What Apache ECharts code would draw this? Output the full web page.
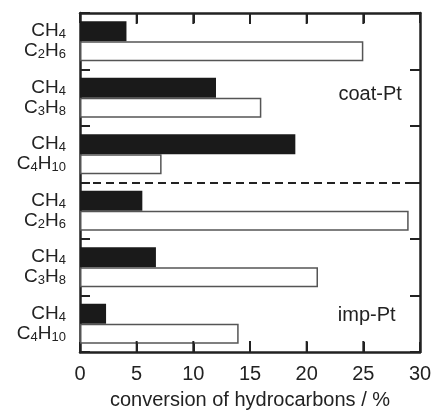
<!DOCTYPE html>
<html>
<head>
<meta charset="utf-8">
<script src="https://cdn.jsdelivr.net/npm/echarts@6/dist/echarts.min.js"></script>
<style>
  html, body { margin: 0; padding: 0; background: #fff; }
  #chart { width: 438px; height: 415px; }
</style>
</head>
<body>
<div id="chart"></div>
<script>
// 催化剂 / 烃类
const catalysts = ['coat-Pt', 'coat-Pt', 'coat-Pt', 'imp-Pt', 'imp-Pt', 'imp-Pt']
const hydrocarbons = ['C2H6', 'C3H8', 'C4H10', 'C2H6', 'C3H8', 'C4H10']
const ch4Conv = [4.1, 12.0, 19.0, 5.5, 6.7, 2.3]
const hcConv = [25.0, 16.0, 7.2, 29.0, 21.0, 14.0]
const xTicks = [0, 5, 10, 15, 20, 25, 30]

const categories = hydrocarbons.map((h, i) => catalysts[i] + '|' + h)
const ink = '#222'
const font = 'Liberation Sans, Arial, Helvetica, sans-serif'

// 把数字变成下标
function formula(s) {
    return s.replace(/([A-Za-z]+)/g, '{m|$1}').replace(/(\d+)/g, '{s|$1}')
}

function axisLine() {
    return { show: true, onZero: false, lineStyle: { color: ink, width: 2.5 } }
}
function axisTick() {
    return { show: true, inside: true, length: 10, lineStyle: { color: ink, width: 2 } }
}

const myChart = echarts.init(document.getElementById('chart'))

const option = {
    animation: false,
    grid: { left: 80, right: 18, top: 13, bottom: 60 },
    xAxis: [
        {
            type: 'value',
            position: 'bottom',
            min: 0, max: 30, interval: 5,
            axisLine: axisLine(),
            axisTick: axisTick(),
            axisLabel: { color: ink, fontSize: 20, fontFamily: font, margin: 12,
                formatter: v => xTicks.includes(v) ? String(v) : '' },
            splitLine: { show: false },
            name: 'conversion of hydrocarbons / %',
            nameLocation: 'middle',
            nameGap: 38,
            nameTextStyle: { color: ink, fontSize: 20, fontFamily: font }
        },
        {
            type: 'value',
            position: 'top',
            min: 0, max: 30, interval: 5,
            axisLine: axisLine(),
            axisTick: axisTick(),
            axisLabel: { show: false },
            splitLine: { show: false }
        }
    ],
    yAxis: [
        {
            type: 'category',
            data: categories,
            inverse: true,
            position: 'left',
            axisLine: axisLine(),
            axisTick: axisTick(),
            axisLabel: {
                margin: 14,
                align: 'right',
                formatter: v => '{m|CH}{s|4}\n' + formula(v.split('|')[1]),
                rich: {
                    m: { fontSize: 19, fontFamily: font, color: ink, lineHeight: 20 },
                    s: { fontSize: 13, fontFamily: font, color: ink, lineHeight: 12, verticalAlign: 'bottom' }
                }
            }
        },
        {
            type: 'value',
            position: 'right',
            min: 0, max: 6, interval: 1,
            inverse: true,
            axisLine: axisLine(),
            axisTick: axisTick(),
            axisLabel: { show: false },
            splitLine: { show: false }
        }
    ],
    series: [
        {
            name: 'CH4',
            type: 'bar',
            xAxisIndex: 0,
            yAxisIndex: 0,
            data: ch4Conv,
            barWidth: 20,
            barGap: '0%',
            itemStyle: { color: '#1a1a1a' }
        },
        {
            name: 'hydrocarbon',
            type: 'bar',
            xAxisIndex: 0,
            yAxisIndex: 0,
            data: hcConv,
            barWidth: 20,
            barGap: '0%',
            itemStyle: { color: '#fff', borderColor: '#555', borderWidth: 1.5 }
        },
        {
            // 分隔线 和 催化剂标注
            type: 'scatter',
            xAxisIndex: 0,
            yAxisIndex: 1,
            data: [],
            silent: true,
            markLine: {
                silent: true,
                symbol: 'none',
                label: { show: false },
                lineStyle: { color: ink, width: 2, type: [8, 5] },
                data: [{ yAxis: 3 }]
            },
            markPoint: {
                silent: true,
                symbol: 'circle',
                symbolSize: 0,
                label: {
                    show: true, position: 'inside',
                    color: ink, fontSize: 20, fontFamily: font,
                    formatter: p => p.name
                },
                data: [
                    { name: 'coat-Pt', coord: [25.6, 1.44] },
                    { name: 'imp-Pt', coord: [25.3, 5.35] }
                ]
            }
        }
    ]
}

myChart.setOption(option)

// x 轴上下内向刻度：位置由图表自己的坐标换算得到
const tickLines = []
xTicks.slice(1, -1).forEach(v => {
    const top = myChart.convertToPixel({ xAxisIndex: 0, yAxisIndex: 1 }, [v, 0])
    const bot = myChart.convertToPixel({ xAxisIndex: 0, yAxisIndex: 1 }, [v, 6])
    tickLines.push({
        type: 'line', z: 100, silent: true,
        shape: { x1: top[0], y1: top[1], x2: top[0], y2: top[1] + 11 },
        style: { stroke: ink, lineWidth: 2 }
    })
    tickLines.push({
        type: 'line', z: 100, silent: true,
        shape: { x1: bot[0], y1: bot[1], x2: bot[0], y2: bot[1] - 11 },
        style: { stroke: ink, lineWidth: 2 }
    })
})
myChart.setOption({ graphic: tickLines })
</script>
</body>
</html>
